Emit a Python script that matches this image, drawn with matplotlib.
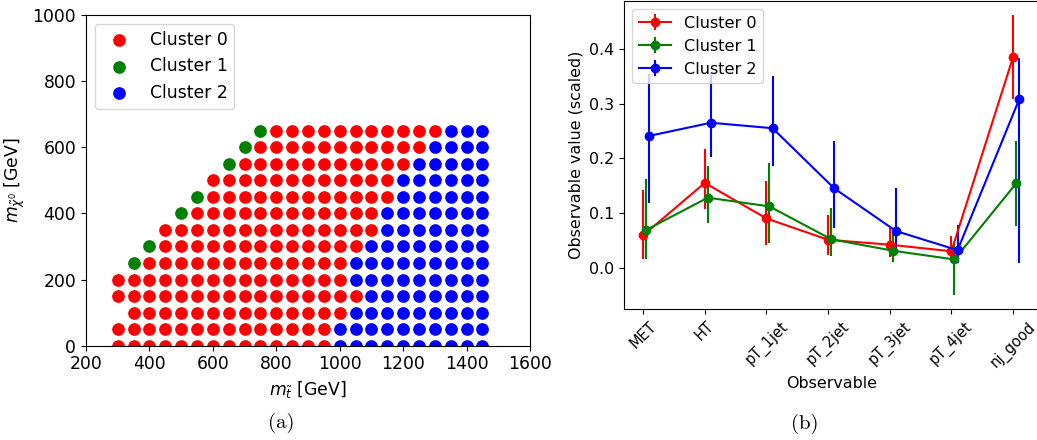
import numpy as np
import matplotlib
matplotlib.use("Agg")
import matplotlib.pyplot as plt

# ---- panel (a): signal grid, one char per point ('.' = no point) ----
m_stop = np.arange(300, 1451, 50)
m_chi = [650, 600, 550, 500, 450, 400, 350, 300, 250, 200, 150, 100, 50, 0]
cluster_map = [
    ".........100000000000222",
    "........1000000000002222",
    ".......10000000000022222",
    "......000000000000222222",
    ".....1000000000000222222",
    "....10000000000002222222",
    "...000000000000002222222",
    "..1000000000000022222222",
    ".10000000000000222222222",
    "000000000000000222222222",
    "000000000000000022222222",
    ".00000000000000222222222",
    "000000000000002222222222",
    "000000000000002222222222",
]

# ---- panel (b): mean observable per cluster with bar ends ----
observables = ["MET", "HT", "pT_1jet", "pT_2jet", "pT_3jet", "pT_4jet", "nj_good"]
mean_c0 = [0.059, 0.155, 0.090, 0.051, 0.042, 0.030, 0.385]
low_c0 = [0.015, 0.107, 0.042, 0.024, 0.020, 0.017, 0.308]
high_c0 = [0.142, 0.217, 0.159, 0.097, 0.073, 0.057, 0.462]
mean_c1 = [0.069, 0.128, 0.112, 0.052, 0.031, 0.015, 0.154]
low_c1 = [0.016, 0.082, 0.046, 0.022, 0.011, -0.050, 0.077]
high_c1 = [0.163, 0.186, 0.191, 0.110, 0.068, 0.045, 0.231]
mean_c2 = [0.241, 0.265, 0.255, 0.145, 0.067, 0.032, 0.308]
low_c2 = [0.118, 0.203, 0.186, 0.073, 0.025, 0.008, 0.008]
high_c2 = [0.355, 0.353, 0.350, 0.231, 0.145, 0.078, 0.383]

colors = ["red", "green", "blue"]
labels = ["Cluster 0", "Cluster 1", "Cluster 2"]

fig = plt.figure(figsize=(10.37, 4.4), dpi=100)
ax1 = fig.add_axes([0.0829, 0.2143, 0.4282, 0.7516])
ax2 = fig.add_axes([0.602, 0.2977, 0.399, 0.70])

# panel (a)
for k in range(3):
    xs, ys = [], []
    for row, mc in zip(cluster_map, m_chi):
        for ch, ms in zip(row, m_stop):
            if ch == str(k):
                xs.append(ms)
                ys.append(mc)
    ax1.scatter(xs, ys, s=66, c=colors[k], label=labels[k])
ax1.set_xlim(200, 1600)
ax1.set_ylim(0, 1000)
ax1.set_xticks(range(200, 1601, 200))
ax1.set_yticks(range(0, 1001, 200))
ax1.tick_params(labelsize=12.4)
ax1.set_xlabel(r"$m_{\tilde{t}}$ [GeV]", fontsize=12.4)
ax1.set_ylabel(r"$m_{\tilde{\chi}^0}$ [GeV]", fontsize=12.4)
ax1.legend(loc="upper left", fontsize=12.4)

# panel (b)
x = np.arange(len(observables))
series = [(mean_c0, low_c0, high_c0), (mean_c1, low_c1, high_c1), (mean_c2, low_c2, high_c2)]
for k, (m, lo, hi) in enumerate(series):
    m = np.array(m)
    yerr = [m - np.array(lo), np.array(hi) - m]
    ax2.errorbar(x + 0.05 * k, m, yerr=yerr, fmt="-o", color=colors[k],
                 markersize=6, linewidth=1.5, label=labels[k])
ax2.set_xticks(x)
ax2.set_xticklabels(observables, rotation=45, fontsize=10.5)
ax2.set_yticks([0.0, 0.1, 0.2, 0.3, 0.4])
ax2.tick_params(axis="y", labelsize=11.4)
ax2.set_xlabel("Observable", fontsize=11.4)
ax2.set_ylabel("Observable value (scaled)", fontsize=11.4)
ax2.legend(loc="upper left", fontsize=11.6)

fig.text(281 / 1037, 1 - 423 / 440, "(a)", family="cmr10", fontsize=15,
         ha="center", va="center")
fig.text(805 / 1037, 1 - 424 / 440, "(b)", family="cmr10", fontsize=15,
         ha="center", va="center")

fig.savefig("out.png", dpi=100)
